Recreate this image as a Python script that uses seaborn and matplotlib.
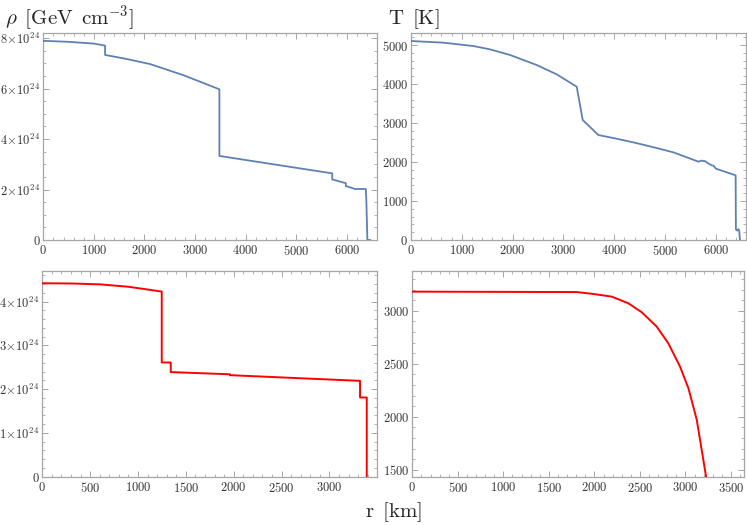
import numpy as np
import matplotlib
matplotlib.use("Agg")
import matplotlib.pyplot as plt
import seaborn as sns
from matplotlib.ticker import MultipleLocator, FuncFormatter

# Earth (blue) and Mars (red) profiles
earth_rho_r = [0, 500, 1000, 1221, 1221, 1600, 2109, 2767, 3480, 3480, 4415, 5710, 5710,
               5980, 5980, 6160, 6375, 6385, 6405, 6465]
earth_rho = [7.89, 7.85, 7.78, 7.70, 7.33, 7.19, 6.97, 6.53, 5.97, 3.33, 3.04, 2.64, 2.40,
             2.25, 2.14, 2.02, 2.02, 1.52, 0.0, 0.0]  # x 1e24 GeV/cm^3

earth_T_r = [0, 636, 1227, 1555, 1949, 2474, 2868, 3262, 3380, 3688, 4000, 4377, 4800, 5164,
             5450, 5656, 5720, 5790, 5847, 5920, 5960, 6000, 6390, 6395, 6420, 6440, 6460, 6475]
earth_T = [5103, 5060, 4974, 4889, 4744, 4487, 4248, 3931, 3077, 2692, 2610, 2504, 2370, 2248,
           2110, 2009, 2035, 2020, 1966, 1915, 1900, 1830, 1658, 270, 240, 280, 240, 0]

mars_rho_r = [0, 300, 600, 900, 1248, 1248, 1342, 1342, 1961, 1961, 3320, 3320, 3390, 3390]
mars_rho = [4.42, 4.415, 4.395, 4.34, 4.23, 2.61, 2.61, 2.39, 2.34, 2.32, 2.19, 1.81, 1.81, 0.0]

mars_T_r = [0, 1805, 1988, 2190, 2373, 2519, 2684, 2811, 2940, 3032, 3124, 3178, 3226, 3260]
mars_T = [3182, 3178, 3160, 3135, 3072, 2988, 2852, 2695, 2475, 2271, 1972, 1689, 1437, 1200]

sns.set_style("ticks")
plt.rcParams["mathtext.fontset"] = "cm"
plt.rcParams["font.family"] = ["DejaVu Serif"]

W, H = 747, 525
fig = plt.figure(figsize=(W / 100, H / 100), dpi=100)

def box(l, r, t, b):
    return [l / W, 1 - b / H, (r - l) / W, (b - t) / H]

frame_c = "#a6a6a6"

def sci(v, pos):
    if abs(v) < 1e-9:
        return r"$0$"
    return r"$%d\!\times\!10^{24}$" % round(v)

def style(ax, xlim, ylim, xmaj, xmin, ymaj, ymin, yfmt=None):
    ax.set_xlim(*xlim); ax.set_ylim(*ylim)
    ax.xaxis.set_major_locator(MultipleLocator(xmaj)); ax.xaxis.set_minor_locator(MultipleLocator(xmin))
    ax.yaxis.set_major_locator(MultipleLocator(ymaj)); ax.yaxis.set_minor_locator(MultipleLocator(ymin))
    ax.xaxis.set_major_formatter(FuncFormatter(lambda v, p: r"$%d$" % round(v)))
    ax.yaxis.set_major_formatter(FuncFormatter(yfmt if yfmt else (lambda v, p: r"$%d$" % round(v))))
    ax.tick_params(which="both", direction="in", top=True, right=True, color=frame_c,
                   labelcolor="#333333", labelsize=9, pad=3)
    ax.tick_params(axis="y", which="major", pad=2)
    ax.tick_params(which="major", length=4, width=0.7)
    ax.tick_params(which="minor", length=2, width=0.6)
    for s in ax.spines.values():
        s.set_color(frame_c); s.set_linewidth(0.9)
    for ln in ax.lines:
        ln.set_zorder(3)
    ax.set_xlabel(""); ax.set_ylabel("")

blue, red = "#5e81b5", "#ff0000"

ax1 = fig.add_axes(box(43.3, 377, 33, 240))
sns.lineplot(x=earth_rho_r, y=earth_rho, ax=ax1, sort=False, estimator=None, color=blue, lw=1.3)
style(ax1, (0, 6595), (0, 8.2), 1000, 200, 2, 0.5, sci)

ax2 = fig.add_axes(box(411, 746, 33, 240))
sns.lineplot(x=earth_T_r, y=earth_T, ax=ax2, sort=False, estimator=None, color=blue, lw=1.3)
style(ax2, (0, 6594), (0, 5308), 1000, 200, 1000, 200)

ax3 = fig.add_axes(box(42.3, 376.7, 271, 476.7))
sns.lineplot(x=mars_rho_r, y=mars_rho, ax=ax3, sort=False, estimator=None, color=red, lw=1.4)
style(ax3, (0, 3494), (0, 4.70), 500, 100, 1, 0.2, sci)

ax4 = fig.add_axes(box(412.3, 744, 271, 476.7))
sns.lineplot(x=mars_T_r, y=mars_T, ax=ax4, sort=False, estimator=None, color=red, lw=1.4)
style(ax4, (0, 3643), (1434, 3377), 500, 100, 500, 100)

fig.text(5 / W, 1 - 18 / H, r"$\rho\ \,[\mathrm{GeV\ \,cm^{-3}}]$", fontsize=15, va="center", ha="left")
fig.text(388 / W, 1 - 19 / H, r"$\mathrm{T\ \,[K]}$", fontsize=15, va="center", ha="left")
fig.text(393 / W, 1 - 512 / H, r"$\mathrm{r\ \,[km]}$", fontsize=15, va="center", ha="center")

fig.savefig("out.png", dpi=100)
